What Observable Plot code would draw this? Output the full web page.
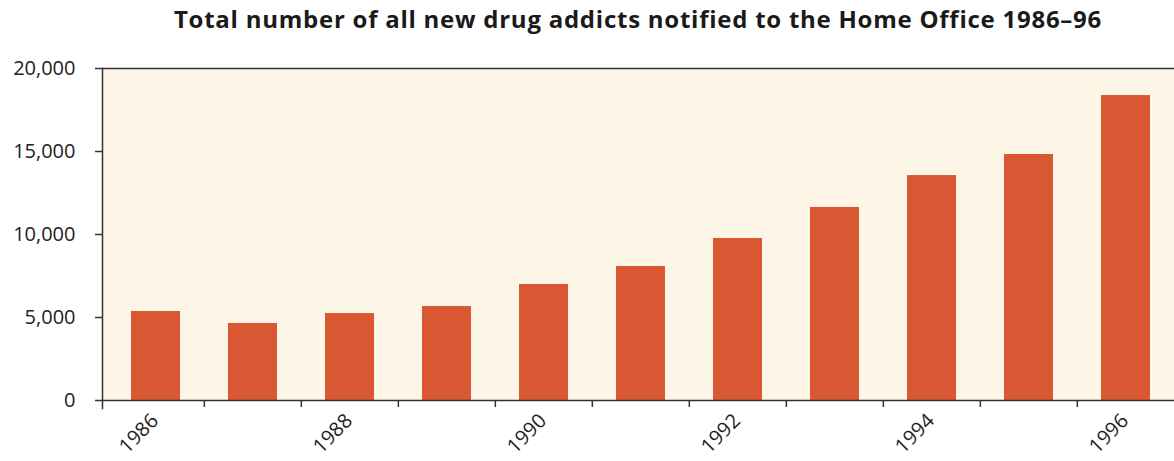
<!DOCTYPE html>
<html>
<head>
<meta charset="utf-8">
<script src="https://cdn.jsdelivr.net/npm/d3@7"></script>
<script src="https://cdn.jsdelivr.net/npm/@observablehq/plot@0.6"></script>
<style>
  body { margin: 0; background: #fff; font-family: "Open Sans", sans-serif; }
  #title { height: 45px; box-sizing: border-box; padding-left: 102px; padding-top: 4px; text-align: center;
           font-family: "Open Sans", sans-serif; font-weight: 700; font-size: 24px; color: #1a1a1a; letter-spacing: 0.75px; line-height: 30px; }
  svg { display: block; overflow: visible; }
</style>
</head>
<body>
<div id="title">Total number of all new drug addicts notified to the Home Office 1986–96</div>
<div id="chart"></div>
<script>
const years = [1986, 1987, 1988, 1989, 1990, 1991, 1992, 1993, 1994, 1995, 1996];
const addicts = [5360, 4640, 5240, 5660, 6990, 8070, 9760, 11630, 13550, 14820, 18370];
const yTicks = [0, 5000, 10000, 15000, 20000];
const labelYears = [1986, 1988, 1990, 1992, 1994, 1996];

const data = years.map((y, i) => ({year: y, value: addicts[i]}));
const W = 1174, H = 416, mL = 102, mR = 0;
const bandStart = 105.4, bandEnd = 1176;
const bw = (bandEnd - bandStart) / years.length;

const chart = Plot.plot({
  width: W, height: H,
  marginLeft: mL, marginRight: mR, marginTop: 23, marginBottom: 61,
  style: {fontFamily: "Open Sans, sans-serif", fontSize: "20px", color: "#222", background: "transparent"},
  x: {type: "band", domain: years, range: [bandStart, bandEnd], paddingInner: 0.5, paddingOuter: 0.25, align: 0.5},
  y: {domain: [0, 20000], range: [355, 23]},
  marks: [
    Plot.frame({fill: "#fdf5e6", stroke: null}),
    Plot.barY(data, {x: "year", y: "value", fill: "#d95733"}),
    Plot.ruleY([0, 20000], {stroke: "#333", strokeWidth: 1.5}),
    Plot.frame({anchor: "left", stroke: "#333", strokeWidth: 1.5, insetBottom: -8}),
    Plot.axisY(yTicks, {tickSize: 7, tickPadding: 20, tickFormat: d3.format(","), stroke: "#333", strokeWidth: 1.5, fill: "#222", fontSize: 20, label: null}),
    Plot.axisX(years.slice(1), {tickSize: 7, tickFormat: () => "", dx: -bw / 2, stroke: "#333", strokeWidth: 1.5, label: null}),
    Plot.axisX(labelYears, {tickSize: 0, tickRotate: -45, tickPadding: 17, dx: -1, fontSize: 20, fill: "#222", tickFormat: d => String(d), label: null})
  ]
});
document.getElementById("chart").appendChild(chart);
</script>
</body>
</html>
